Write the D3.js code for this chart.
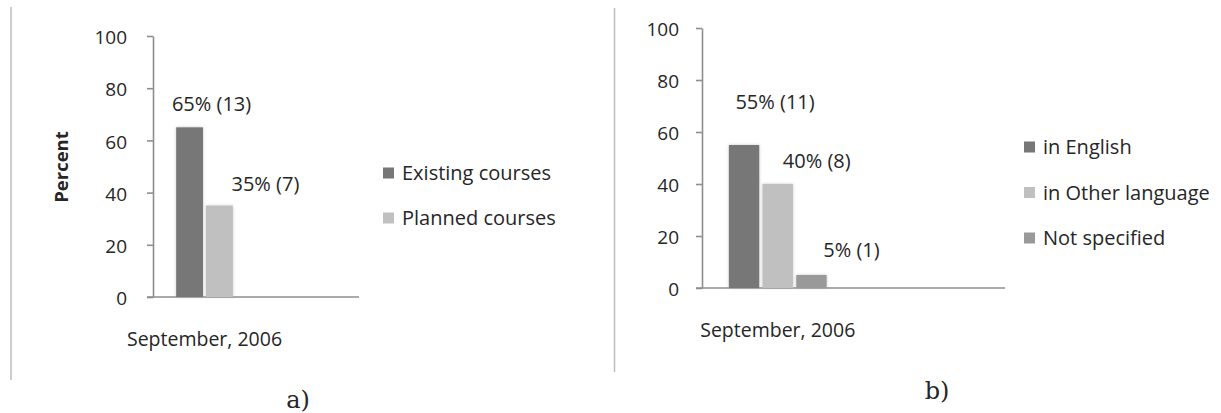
<!DOCTYPE html>
<html>
<head>
<meta charset="utf-8">
<script src="https://cdn.jsdelivr.net/npm/d3@7"></script>
<style>
  html, body { margin: 0; padding: 0; background: #fff; }
  svg { display: block; }
  text { font-family: "Open Sans", "DejaVu Sans", sans-serif; fill: #262626; }
</style>
</head>
<body>
<svg id="chart" width="1221" height="413"></svg>
<script>
// ---- data ----
const categories = ["September, 2006", ""];
const yTicks = [0, 20, 40, 60, 80, 100];

const seriesA = ["Existing courses", "Planned courses"];
const percentA = [65, 35];
const countA = [13, 7];

const seriesB = ["in English", "in Other language", "Not specified"];
const percentB = [55, 40, 5];
const countB = [11, 8, 1];

// ---- drawing ----
const svg = d3.select("#chart");

const defs = svg.append("defs");
const glow = defs.append("filter").attr("id", "glow")
  .attr("x", "-30%").attr("y", "-30%").attr("width", "160%").attr("height", "160%");
glow.append("feDropShadow").attr("dx", 0).attr("dy", 0)
  .attr("stdDeviation", 1.6).attr("flood-color", "#9a9a9a").attr("flood-opacity", 0.55);

const axisColor = "#8e8e8e";

function drawPanel(p) {
  const g = svg.append("g");

  const y = d3.scaleLinear().domain([0, 100]).range(p.yRange);
  const x0 = d3.scaleBand().domain(categories).range(p.xRange).padding(0);
  const groupW = x0.bandwidth() * p.groupFrac;
  const x1 = d3.scaleBand().domain(p.series)
    .range([(x0.bandwidth() - groupW) / 2, (x0.bandwidth() + groupW) / 2])
    .paddingInner(0.1);
  const color = d3.scaleOrdinal().domain(p.series).range(p.colors);

  // y axis
  const yAxis = g.append("g")
    .attr("transform", `translate(${p.xRange[0]},0)`)
    .call(d3.axisLeft(y).tickValues(yTicks).tickSize(6).tickPadding(p.tickPad).tickSizeOuter(0));
  yAxis.select(".domain").attr("stroke", axisColor).attr("stroke-width", 1.6);
  yAxis.selectAll(".tick line").attr("stroke", axisColor).attr("stroke-width", 1.6);
  yAxis.selectAll(".tick text")
    .style("font-size", "19px").attr("dy", "0.4em").attr("fill", "#262626");

  // x axis
  const xAxis = g.append("g")
    .attr("transform", `translate(0,${y(0)})`)
    .call(d3.axisBottom(x0).tickSize(0).tickPadding(p.xLabelPad).tickSizeOuter(0));
  xAxis.select(".domain").remove();
  g.append("line")
    .attr("x1", p.xRange[0] - 6).attr("x2", p.xRange[1])
    .attr("y1", y(0)).attr("y2", y(0))
    .attr("stroke", axisColor).attr("stroke-width", 1.6);
  xAxis.selectAll(".tick text").style("font-size", "19.5px").attr("fill", "#262626");

  // bars
  const rows = p.series.map((s, i) => ({ s, v: p.values[i], n: p.counts[i], off: p.labelOffsets[i] }));
  const bars = g.append("g").attr("transform", `translate(${x0(categories[0])},0)`);
  bars.selectAll("rect").data(rows).join("rect")
    .attr("x", d => x1(d.s))
    .attr("y", d => y(d.v))
    .attr("width", x1.bandwidth())
    .attr("height", d => y(0) - y(d.v))
    .attr("fill", d => color(d.s))
    .attr("filter", "url(#glow)");

  // value labels
  bars.selectAll("text").data(rows).join("text")
    .attr("x", d => x1(d.s) + x1.bandwidth() / 2 + d.off[0])
    .attr("y", d => y(d.v) + d.off[1])
    .attr("text-anchor", "middle")
    .attr("dy", "0.35em")
    .style("font-size", "20px")
    .text(d => `${d.v}% (${d.n})`);

  // legend
  const leg = g.append("g");
  const items = leg.selectAll("g").data(p.series).join("g")
    .attr("transform", (d, i) => `translate(${p.legendX},${p.legendY + i * p.legendStep})`);
  items.append("rect")
    .attr("x", 0).attr("y", -5.5).attr("width", 11).attr("height", 11)
    .attr("fill", d => color(d));
  items.append("text")
    .attr("x", 19).attr("y", 0).attr("dy", "0.36em")
    .style("font-size", "20px")
    .text(d => d);

  // y title
  if (p.yTitle) {
    g.append("text")
      .attr("transform", `translate(${p.yTitlePos[0]},${p.yTitlePos[1]}) rotate(-90)`)
      .attr("text-anchor", "middle").attr("dy", "0.35em")
      .style("font-size", "18.5px").style("font-weight", "bold")
      .text(p.yTitle);
  }

  // panel caption
  svg.append("text")
    .attr("x", p.caption[1][0]).attr("y", p.caption[1][1])
    .attr("text-anchor", "middle")
    .style("font-family", "'DejaVu Serif', 'Liberation Serif', serif")
    .style("font-size", "24px")
    .text(p.caption[0]);
}

// frame separators
svg.append("line").attr("x1", 11).attr("x2", 11).attr("y1", 7).attr("y2", 380)
  .attr("stroke", "#bdbdbd").attr("stroke-width", 1.5);
svg.append("line").attr("x1", 614.5).attr("x2", 614.5).attr("y1", 8).attr("y2", 372)
  .attr("stroke", "#bdbdbd").attr("stroke-width", 1.5);

drawPanel({
  series: seriesA, values: percentA, counts: countA,
  colors: ["#777777", "#c0c0c0"],
  xRange: [153, 359], yRange: [297, 36], tickPad: 20, xLabelPad: 35,
  groupFrac: 0.55,
  labelOffsets: [[22, -23], [46, -22]],
  legendX: 383, legendY: 173, legendStep: 45,
  yTitle: "Percent", yTitlePos: [62, 167],
  caption: ["a)", [298, 408]]
});

drawPanel({
  series: seriesB, values: percentB, counts: countB,
  colors: ["#777777", "#c0c0c0", "#999999"],
  xRange: [702, 1005], yRange: [288, 28], tickPad: 17, xLabelPad: 35,
  groupFrac: 0.645,
  labelOffsets: [[31, -43], [39, -23], [40, -25]],
  legendX: 1024, legendY: 147, legendStep: 45.5,
  yTitle: null,
  caption: ["b)", [937, 399]]
});
</script>
</body>
</html>
